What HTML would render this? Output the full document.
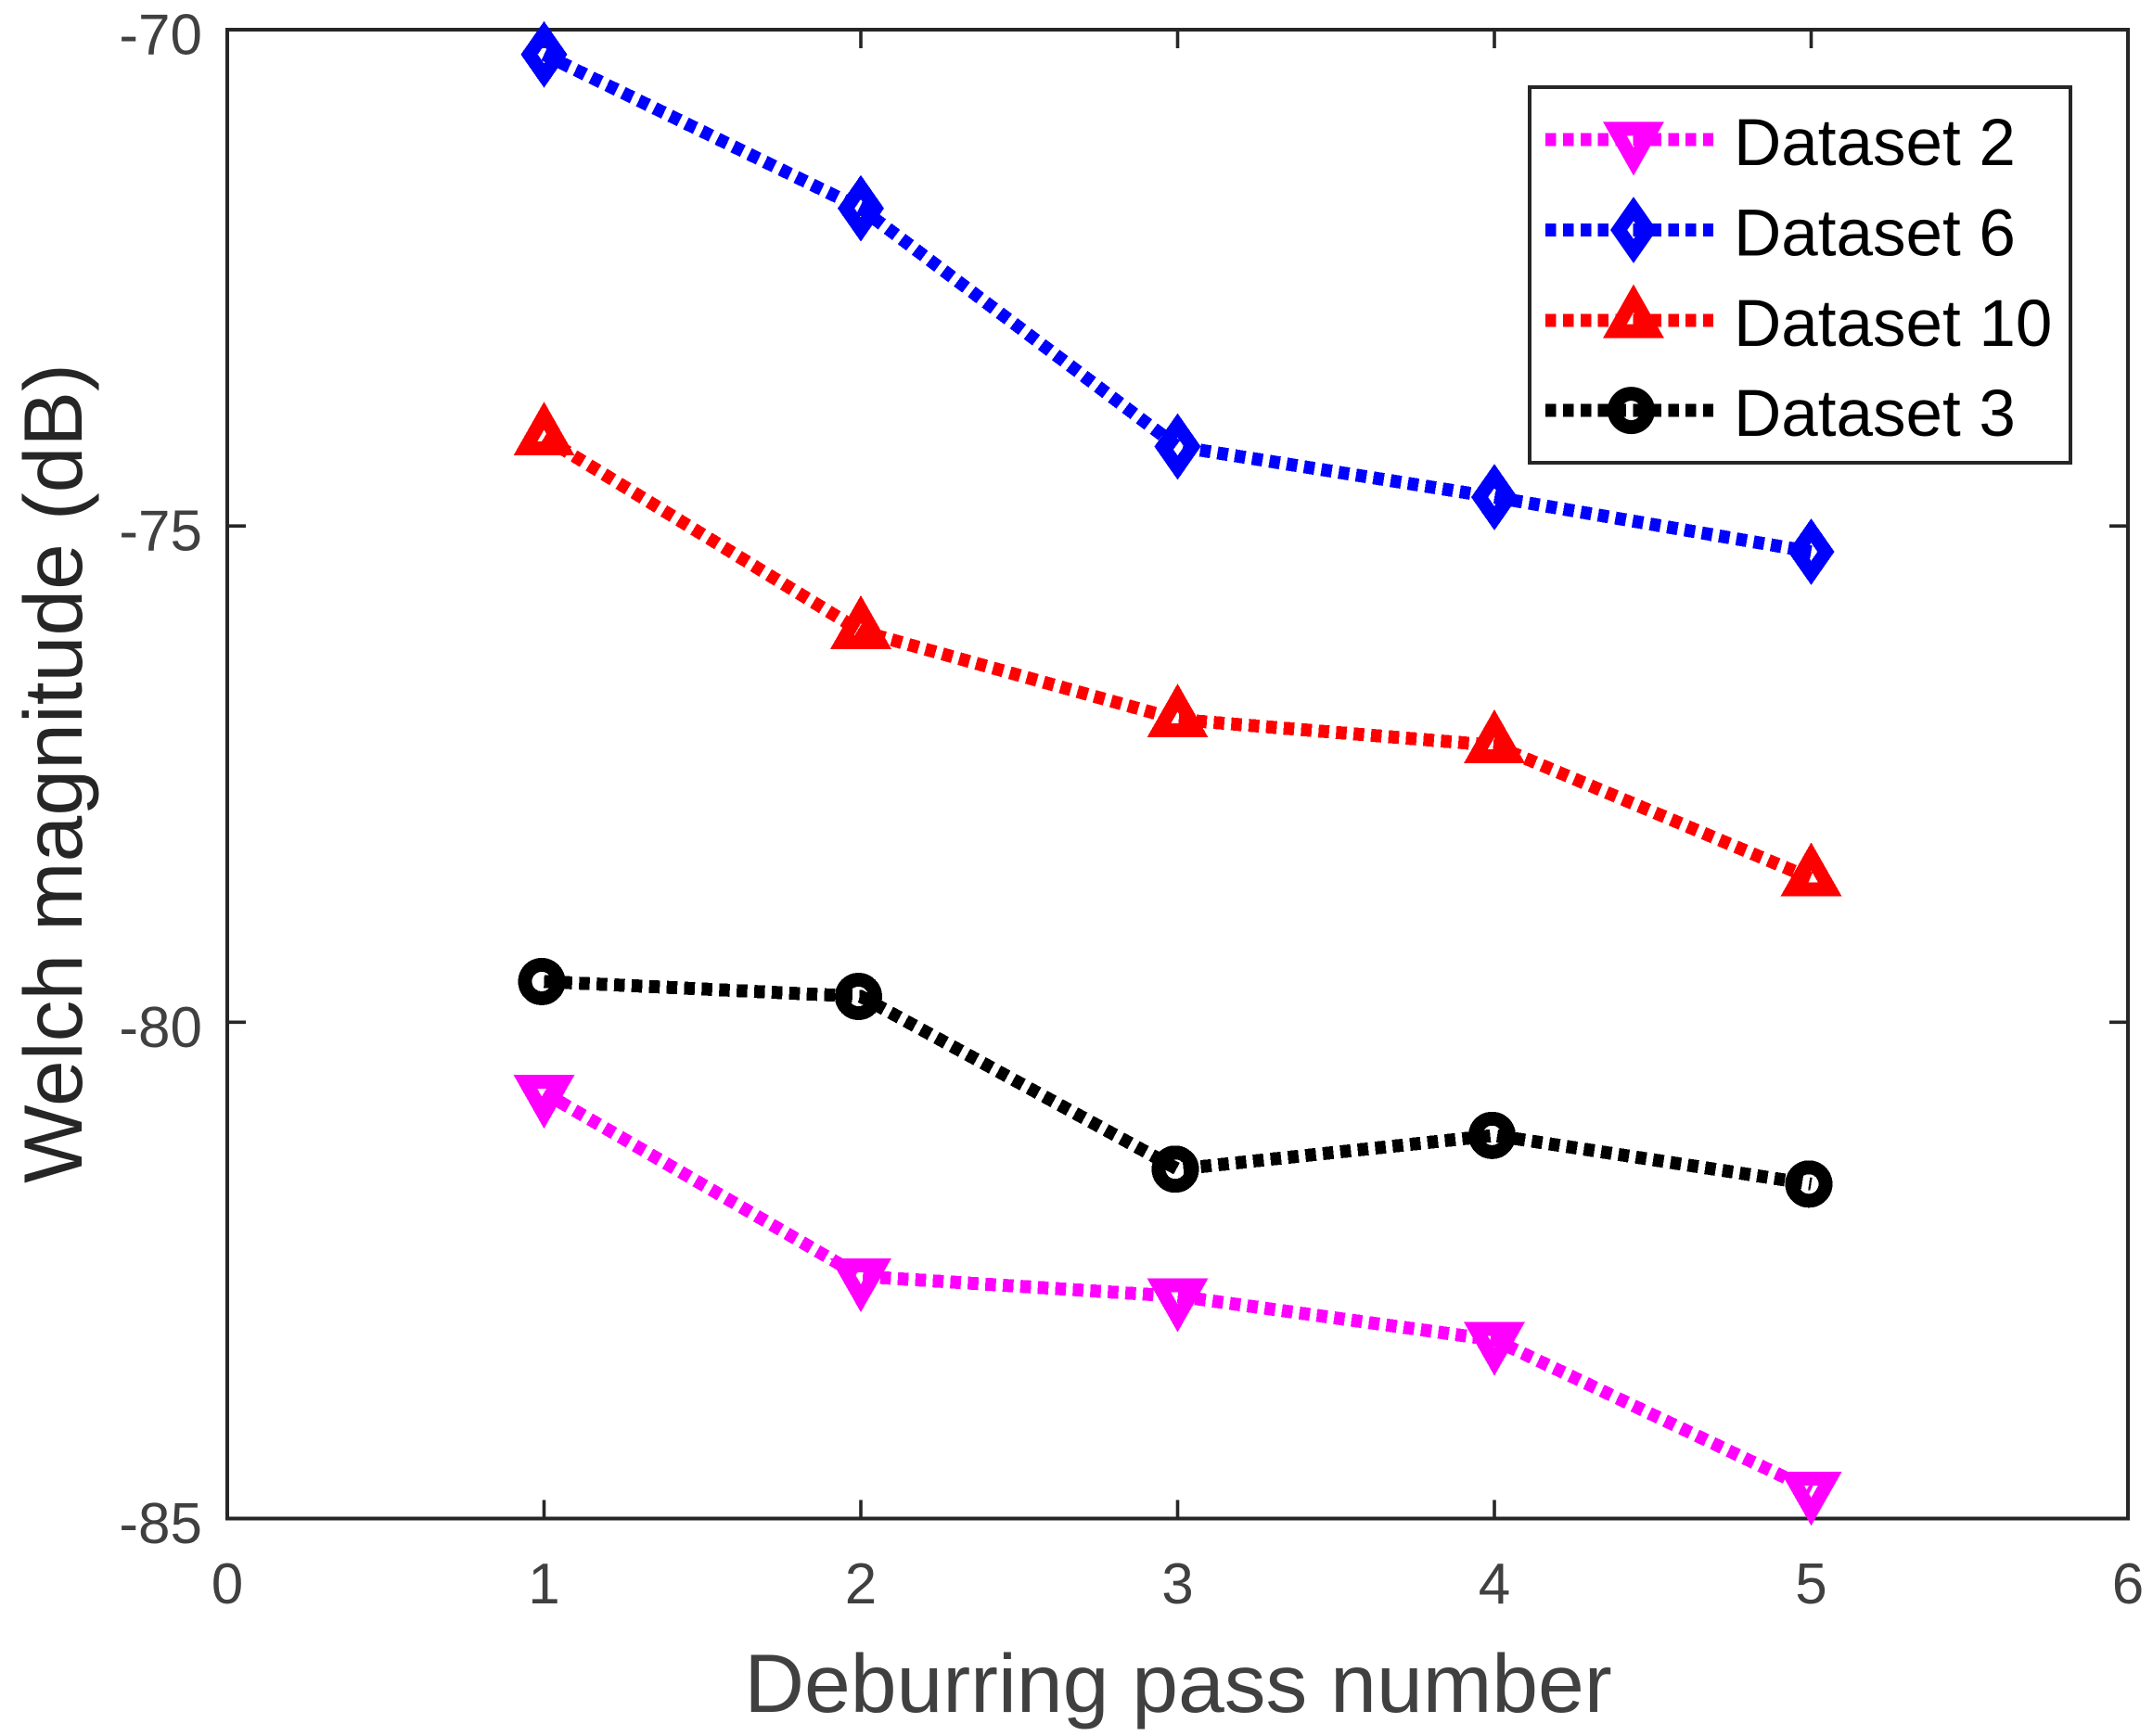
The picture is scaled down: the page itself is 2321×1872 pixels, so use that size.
<!DOCTYPE html>
<html lang="en">
<head>
<meta charset="utf-8">
<title>Welch magnitude vs deburring pass number</title>
<style>
html,body{margin:0;padding:0;background:#fff;}
svg{display:block;}
text{font-family:"Liberation Sans",Arial,sans-serif;}
</style>
</head>
<body>
<svg id="chart" xmlns="http://www.w3.org/2000/svg" width="2321" height="1872" viewBox="0 0 2321 1872">
  <rect x="0" y="0" width="2321" height="1872" fill="#fff"/>
  <rect x="245" y="32" width="2049" height="1605.5" fill="none" stroke="#262626" stroke-width="4"/>
  <g id="ticks"></g>
  <g id="tick-labels"></g>
  <text x="1270" y="1846" font-size="89.5" text-anchor="middle" fill="#404040">Deburring pass number</text>
  <text transform="translate(88,834) rotate(-90)" font-size="89.5" text-anchor="middle" fill="#262626">Welch magnitude (dB)</text>
  <g id="series" shape-rendering="crispEdges"></g>
  <g id="legend">
    <rect x="1649" y="94" width="583" height="405" fill="#fff" stroke="#262626" stroke-width="4"/>
  </g>
</svg>
<script>
const passNumbers = [1, 2, 3, 4, 5];
const xTickValues = [0, 1, 2, 3, 4, 5, 6];
const yTickValues = [-70, -75, -80, -85];
const dataset2 = [-80.71, -82.56, -82.76, -83.2, -84.71];
const dataset6 = [-70.25, -71.8, -74.2, -74.71, -75.26];
const dataset10 = [-74.11, -76.06, -76.95, -77.21, -78.55];
const dataset3 = [-79.59, -79.74, -81.48, -81.14, -81.63];
const seriesNames = ['Dataset 2', 'Dataset 6', 'Dataset 10', 'Dataset 3'];
const seriesValues = [dataset2, dataset6, dataset10, dataset3];
const seriesColors = ['#ff00ff', '#0000ff', '#ff0000', '#000000'];
const seriesMarkers = ['down', 'diamond', 'up', 'circle'];

const NS = 'http://www.w3.org/2000/svg';
const plot = { left: 245, right: 2294, top: 32, bottom: 1637.5 };
const xMin = 0, xMax = 6, yMin = -85, yMax = -70;

function xScale(v) {
  return plot.left + (v - xMin) / (xMax - xMin) * (plot.right - plot.left);
}
function yScale(v) {
  return plot.bottom - (v - yMin) / (yMax - yMin) * (plot.bottom - plot.top);
}
function make(tag, attrs, parent) {
  const el = document.createElementNS(NS, tag);
  for (const k in attrs) el.setAttribute(k, attrs[k]);
  parent.appendChild(el);
  return el;
}
function drawMarker(kind, cx, cy, color, parent) {
  const style = { fill: 'none', stroke: color, 'stroke-width': 15, 'stroke-linejoin': 'miter', 'stroke-miterlimit': 10 };
  let el;
  if (kind === 'circle') {
    el = make('circle', { cx: cx - 2.5, cy: cy, r: 18, fill: 'none', stroke: color, 'stroke-width': 15 }, parent);
  } else {
    let pts;
    if (kind === 'down') pts = [[-20.1, -11.8], [20.1, -11.8], [0, 23.6]];
    else if (kind === 'up') pts = [[-20.1, 11.8], [20.1, 11.8], [0, -23.6]];
    else pts = [[0, -22.8], [15.9, 0], [0, 22.8], [-15.9, 0]];
    const text = pts.map(p => (cx + p[0]) + ',' + (cy + p[1])).join(' ');
    el = make('polygon', Object.assign({ points: text }, style), parent);
  }
  return el;
}

const ticks = document.getElementById('ticks');
const tickLabels = document.getElementById('tick-labels');
const tickStyle = { stroke: '#262626', 'stroke-width': 3.6 };
const tickLen = 20;

xTickValues.forEach(function (v) {
  const x = xScale(v);
  const bottomTick = make('line', Object.assign({ x1: x, x2: x, y1: plot.bottom, y2: plot.bottom - tickLen }, tickStyle), ticks);
  
  
  const topTick = make('line', Object.assign({ x1: x, x2: x, y1: plot.top, y2: plot.top + tickLen }, tickStyle), ticks);
  
  
  const label = make('text', { x: x, y: 1729, 'font-size': 62, 'text-anchor': 'middle', fill: '#404040' }, tickLabels);
  label.textContent = String(v);
  
  
});

yTickValues.forEach(function (v) {
  const y = yScale(v);
  const leftTick = make('line', Object.assign({ x1: plot.left, x2: plot.left + tickLen, y1: y, y2: y }, tickStyle), ticks);
  
  
  const rightTick = make('line', Object.assign({ x1: plot.right, x2: plot.right - tickLen, y1: y, y2: y }, tickStyle), ticks);
  
  
  const label = make('text', { x: 218, y: y + 26.5, 'font-size': 62, 'text-anchor': 'end', fill: '#404040' }, tickLabels);
  label.textContent = String(v);
  
  
});

const seriesLayer = document.getElementById('series');
seriesNames.forEach(function (name, i) {
  const color = seriesColors[i];
  const group = make('g', {}, seriesLayer);
  
  
  const pts = passNumbers.map(function (p, j) {
    return xScale(p) + ',' + yScale(seriesValues[i][j]);
  }).join(' ');
  const line = make('polyline', { points: pts, fill: 'none', stroke: color, 'stroke-width': 14, 'stroke-dasharray': '11.5 7.4' }, group);
  
  
  passNumbers.forEach(function (p, j) {
    const marker = drawMarker(seriesMarkers[i], xScale(p), yScale(seriesValues[i][j]), color, group);
    
    
  });
});

const legend = document.getElementById('legend');
seriesNames.forEach(function (name, i) {
  const color = seriesColors[i];
  const rowY = 150.7 + i * 97.3;
  const entry = make('g', {}, legend);
  
  
  const sample = make('line', { x1: 1666, x2: 1847, y1: rowY, y2: rowY, stroke: color, 'stroke-width': 14, 'stroke-dasharray': '11.5 7.4', 'shape-rendering': 'crispEdges' }, entry);
  
  
  const marker = drawMarker(seriesMarkers[i], 1761, rowY, color, entry);
  
  
  const label = make('text', { x: 1869, y: rowY + 27.5, 'font-size': 71, fill: '#000' }, entry);
  label.textContent = name;
  
  
});
</script>
</body>
</html>
